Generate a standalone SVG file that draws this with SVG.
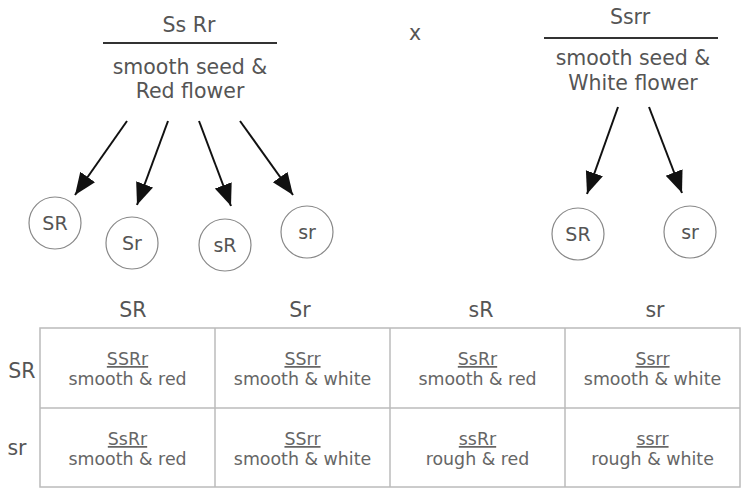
<svg xmlns="http://www.w3.org/2000/svg" width="751" height="495" viewBox="0 0 751 495">
<defs>
<style>
text{font-family:"DejaVu Sans","Verdana",sans-serif;fill:#555;text-anchor:middle}
.h{font-size:20.5px}
.c{font-size:19px}
.t{font-size:17.4px;fill:#666}
.u{text-decoration:underline}
.bar{stroke:#333;stroke-width:2}
.node circle{fill:#fff;stroke:#888;stroke-width:1.2}
.edge{stroke:#111;stroke-width:2;fill:none;marker-end:url(#ah)}
.grid{stroke:#bbb;stroke-width:1.5;fill:none}
</style>
<marker id="ah" markerUnits="userSpaceOnUse" markerWidth="24" markerHeight="20" refX="22" refY="9" orient="auto">
<path d="M0,0 L22,9 L0,18 z" fill="#111"/>
</marker>
</defs>
<rect width="751" height="495" fill="#fff"/>
<g id="parent1">
<text class="h" x="189" y="32">Ss Rr</text>
<line class="bar" x1="103" y1="43" x2="277" y2="43"/>
<text class="h" x="190" y="74">smooth seed &amp;</text>
<text class="h" x="190" y="98">Red flower</text>
</g>
<g id="cross"><text class="h" x="415" y="40">x</text></g>
<g id="parent2">
<text class="h" x="630" y="24">Ssrr</text>
<line class="bar" x1="544" y1="38" x2="718" y2="38"/>
<text class="h" x="633" y="65">smooth seed &amp;</text>
<text class="h" x="633" y="90">White flower</text>
</g>
<g id="g1" class="node"><circle cx="55" cy="223" r="26"/><text class="c" x="55" y="230">SR</text></g>
<g id="g2" class="node"><circle cx="132" cy="243" r="26"/><text class="c" x="132" y="250">Sr</text></g>
<g id="g3" class="node"><circle cx="225" cy="245" r="26"/><text class="c" x="225" y="252">sR</text></g>
<g id="g4" class="node"><circle cx="307" cy="232" r="26"/><text class="c" x="307" y="239">sr</text></g>
<g id="g5" class="node"><circle cx="578" cy="234" r="26"/><text class="c" x="578" y="241">SR</text></g>
<g id="g6" class="node"><circle cx="690" cy="232" r="26"/><text class="c" x="690" y="239">sr</text></g>
<g id="connectors">
<line class="edge" x1="127" y1="121" x2="75" y2="195"/>
<line class="edge" x1="168" y1="121" x2="137" y2="205"/>
<line class="edge" x1="199" y1="121" x2="231" y2="206"/>
<line class="edge" x1="240" y1="121" x2="293" y2="195"/>
<line class="edge" x1="618" y1="107" x2="587" y2="194"/>
<line class="edge" x1="649" y1="107" x2="682" y2="193"/>
</g>
<g id="punnett">
<text class="h" x="133" y="317">SR</text>
<text class="h" x="300" y="317">Sr</text>
<text class="h" x="481" y="317">sR</text>
<text class="h" x="655" y="317">sr</text>
<text class="h" x="22" y="378">SR</text>
<text class="h" x="17" y="455">sr</text>
<rect class="grid" x="40" y="328" width="700" height="159"/>
<line class="grid" x1="40" y1="408" x2="740" y2="408"/>
<line class="grid" x1="215" y1="328" x2="215" y2="487"/>
<line class="grid" x1="390" y1="328" x2="390" y2="487"/>
<line class="grid" x1="565" y1="328" x2="565" y2="487"/>
<g id="c11"><text class="t u" x="127.5" y="365">SSRr</text><text class="t" x="127.5" y="385">smooth &amp; red</text></g>
<g id="c12"><text class="t u" x="302.5" y="365">SSrr</text><text class="t" x="302.5" y="385">smooth &amp; white</text></g>
<g id="c13"><text class="t u" x="477.5" y="365">SsRr</text><text class="t" x="477.5" y="385">smooth &amp; red</text></g>
<g id="c14"><text class="t u" x="652.5" y="365">Ssrr</text><text class="t" x="652.5" y="385">smooth &amp; white</text></g>
<g id="c21"><text class="t u" x="127.5" y="445">SsRr</text><text class="t" x="127.5" y="465">smooth &amp; red</text></g>
<g id="c22"><text class="t u" x="302.5" y="445">SSrr</text><text class="t" x="302.5" y="465">smooth &amp; white</text></g>
<g id="c23"><text class="t u" x="477.5" y="445">ssRr</text><text class="t" x="477.5" y="465">rough &amp; red</text></g>
<g id="c24"><text class="t u" x="652.5" y="445">ssrr</text><text class="t" x="652.5" y="465">rough &amp; white</text></g>
</g>
</svg>
